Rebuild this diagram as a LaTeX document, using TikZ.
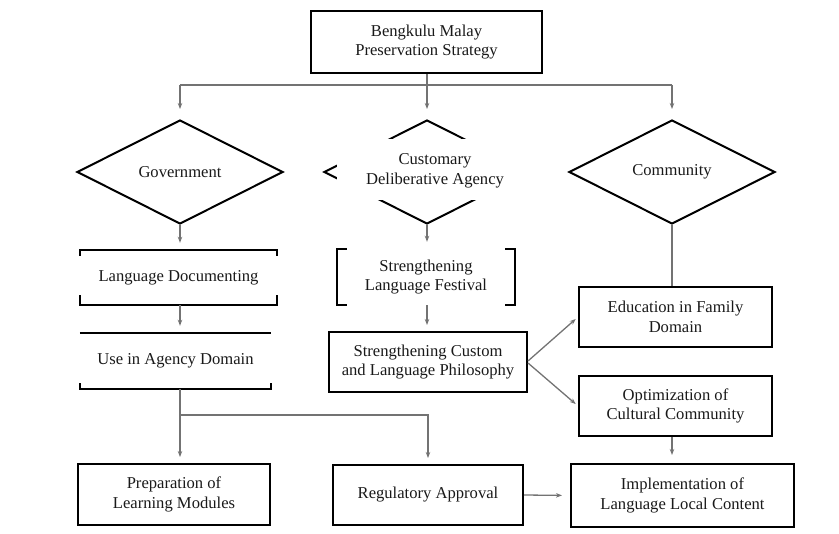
\documentclass[tikz,border=0pt]{standalone}
\usepackage{fontspec}
\setmainfont{Liberation Serif}
\usetikzlibrary{arrows.meta,shapes.geometric}
\begin{document}
\begin{tikzpicture}[x=1pt,y=-1pt,
  every node/.style={font=\fontsize{16.6}{19.5}\selectfont, align=center, inner sep=0pt, text=black!90},
  box/.style={draw=black, line width=2pt},
  brk/.style={draw=black, line width=2pt},
  conn/.style={draw=black!55, line width=1.3pt, -{Stealth[length=6pt,width=4.5pt]}, shorten >=6pt},
  plain/.style={draw=black!55, line width=1.3pt},
  dia/.style={diamond, draw=black, line width=2pt, minimum width=206pt, minimum height=104pt, inner sep=0pt}]
\useasboundingbox (0,0) rectangle (839,534);

% top
\node[box, minimum width=231pt, minimum height=62pt] (top) at (426.5,42) {Bengkulu Malay\\Preservation Strategy};

% diamonds
\node[dia] (gov) at (180,172) {};
\node (govt) at (180,172) {Government};
\node[dia] (cda) at (427,172) {};
\node[fill=white, minimum width=203pt, minimum height=61pt] (cdamask) at (438.5,169.5) {};
\node (cdat) at (435,171) {Customary\\Deliberative Agency};
\node[dia] (com) at (672,172) {};
\node (comt) at (672,172) {Community};

% left column
\node[minimum width=197pt, minimum height=55pt] (ld) at (178.5,277.5) {Language Documenting};
\node[minimum width=191pt, minimum height=56pt] (ua) at (175.5,361) {Use in Agency Domain};
\draw[brk] ([yshift=-6pt]ld.north west) -- (ld.north west) -- (ld.north east) -- ([yshift=-6pt]ld.north east);
\draw[brk] ([yshift=10pt]ld.south west) -- (ld.south west) -- (ld.south east) -- ([yshift=10pt]ld.south east);
\draw[brk] (ua.north west) -- (ua.north east);
\draw[brk] ([yshift=6pt]ua.south west) -- (ua.south west) -- (ua.south east) -- ([yshift=6pt]ua.south east);

% middle column
\node[minimum width=178pt, minimum height=56pt] (fest) at (426,277) {Strengthening\\Language Festival};
\draw[brk] ([xshift=10pt]fest.north west) -- (fest.north west) -- (fest.south west) -- ([xshift=10pt]fest.south west);
\draw[brk] ([xshift=-10pt]fest.north east) -- (fest.north east) -- (fest.south east) -- ([xshift=-10pt]fest.south east);
\node[box, minimum width=198pt, minimum height=60pt] (scp) at (428,362) {Strengthening Custom\\and Language Philosophy};

% right column
\node[box, minimum width=193pt, minimum height=60pt] (edu) at (675.5,317) {Education in Family\\Domain};
\node[box, minimum width=193pt, minimum height=60pt] (opt) at (675.5,406) {Optimization of\\Cultural Community};

% bottom row
\node[box, minimum width=192pt, minimum height=61pt] (prep) at (174,494.5) {Preparation of\\Learning Modules};
\node[box, minimum width=190pt, minimum height=60pt] (reg) at (428,495) {Regulatory Approval};
\node[box, minimum width=223pt, minimum height=63pt] (imp) at (682.5,495.5) {Implementation of\\Language Local Content};

% connectors
\coordinate (hl) at (180,85);
\coordinate (hm) at (427,85);
\coordinate (hr) at (672,85);
\draw[plain] (top.south -| hm) -- (hm);
\draw[plain] (hl) -- (hr);
\draw[conn, shorten >=10pt] (hl) -- (gov.north);
\draw[conn, shorten >=10pt] (hm) -- (cda.north);
\draw[conn, shorten >=10pt] (hr) -- (com.north);

\draw[conn, shorten >=7pt] (gov.south) -- (gov.south |- ld.north);
\draw[conn, shorten >=7pt] (gov.south |- ld.south) -- (gov.south |- ua.north);
\coordinate (j) at (180,415);
\draw[plain] (gov.south |- ua.south) -- (j);
\draw[conn] (j) -- (j |- prep.north);
\draw[conn] (j) -| (reg.north);

\draw[conn, shorten >=7pt] (cda.south) -- (cda.south |- fest.north);
\draw[conn] (cda.south |- fest.south) -- (cda.south |- scp.north);
\draw[conn, shorten >=3pt] ([yshift=1pt]scp.east) -- (edu.west);
\draw[conn, shorten >=3pt] ([yshift=-1pt]scp.east) -- (opt.west);

\draw[plain] (com.south) -- (com.south |- edu.north);
\draw[conn, shorten >=8pt] (com.south |- opt.south) -- (com.south |- imp.north);
\draw[conn, shorten >=8pt] (reg.east) -- (imp.west);
\end{tikzpicture}
\end{document}
